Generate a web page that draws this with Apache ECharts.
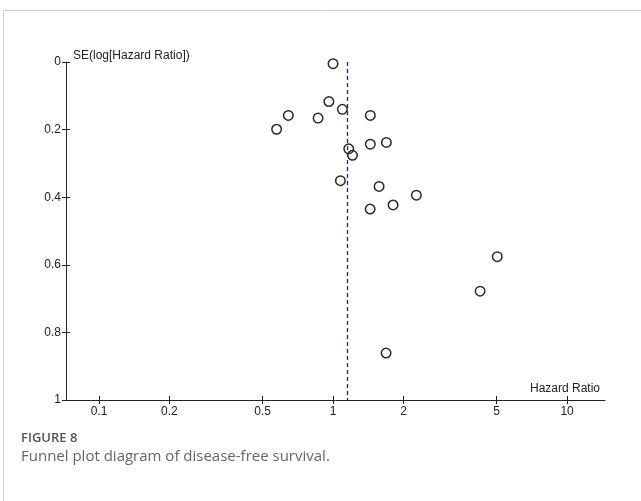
<!DOCTYPE html>
<html>
<head>
<meta charset="utf-8">
<script src="https://cdn.jsdelivr.net/npm/echarts@6/dist/echarts.min.js"></script>
<style>
  html, body { margin: 0; padding: 0; background: #fff; }
  #chart { width: 641px; height: 501px; }
</style>
</head>
<body>
<div id="chart"></div>
<script>
// Study estimates: hazard ratio and standard error of log(HR)
const hazardRatio = [1.00, 0.96, 0.644, 0.574, 0.863, 1.096, 1.443, 1.167, 1.211, 1.443,
                     1.690, 1.075, 1.573, 2.27, 1.440, 1.805, 5.03, 4.25, 1.685];
const seLogHR     = [0.005, 0.117, 0.158, 0.199, 0.166, 0.140, 0.158, 0.257, 0.276, 0.243,
                     0.238, 0.351, 0.368, 0.394, 0.435, 0.423, 0.576, 0.678, 0.861];
// Pooled estimate (vertical reference line)
const pooledHR = 1.148;
// Axis tick labels
const xTickLabels = [0.1, 0.2, 0.5, 1, 2, 5, 10];
const yTickLabels = [0, 0.2, 0.4, 0.6, 0.8, 1];

const log10 = Math.log10;
const xTickPos = xTickLabels.map(log10);
const points = hazardRatio.map((hr, i) => [log10(hr), seLogHR[i]]);

const font = 'Liberation Sans, Arial, sans-serif';
const axisColor = '#222';
const labelColor = '#222';

const xBase = {
  type: 'value', gridIndex: 0, position: 'bottom',
  min: -1.141, max: 1.162,
  splitLine: { show: false }
};
const yBase = {
  type: 'value', gridIndex: 0, position: 'left', inverse: true,
  min: 0, max: 1, interval: 0.2,
  splitLine: { show: false }
};

const chart = echarts.init(document.getElementById('chart'), null, { renderer: 'canvas' });
chart.setOption({
  animation: false,
  backgroundColor: '#fff',
  grid: { left: 66, top: 62, right: 36, bottom: 101, containLabel: false },
  xAxis: [
    Object.assign({}, xBase, {
      axisLine: { show: true, onZero: false, lineStyle: { color: axisColor, width: 1 } },
      axisTick: { show: true, inside: false, length: 4, customValues: xTickPos,
                  lineStyle: { color: axisColor } },
      axisLabel: { show: true, customValues: xTickPos, margin: 6,
                   color: labelColor, fontSize: 12, fontFamily: font,
                   formatter: v => String(Number(Math.pow(10, v).toPrecision(3))) }
    }),
    Object.assign({}, xBase, {
      axisLine: { show: false, onZero: false },
      axisTick: { show: true, inside: true, length: 4, customValues: xTickPos,
                  lineStyle: { color: axisColor } },
      axisLabel: { show: false }
    })
  ],
  yAxis: [
    Object.assign({}, yBase, {
      axisLine: { show: true, onZero: false, lineStyle: { color: axisColor, width: 1 } },
      axisTick: { show: true, inside: false, length: 4, lineStyle: { color: axisColor } },
      axisLabel: { show: true, margin: 5, color: labelColor, fontSize: 12, fontFamily: font,
                   formatter: v => String(yTickLabels.find(t => Math.abs(t - v) < 1e-6) ?? v) }
    }),
    Object.assign({}, yBase, {
      axisLine: { show: false, onZero: false },
      axisTick: { show: true, inside: true, length: 4, lineStyle: { color: axisColor } },
      axisLabel: { show: false }
    })
  ],
  series: [
    {
      type: 'scatter',
      xAxisIndex: 0, yAxisIndex: 0,
      data: points,
      symbol: 'circle',
      symbolSize: 9.5,
      itemStyle: { color: 'rgba(255,255,255,0)', borderColor: '#2a2a2a', borderWidth: 1.5, opacity: 1 },
      z: 3,
      markLine: {
        silent: true,
        symbol: 'none',
        label: { show: false },
        emphasis: { disabled: true },
        lineStyle: { color: '#1e1ea8', type: [4, 3], width: 1.3, opacity: 1 },
        data: [[{ coord: [log10(pooledHR), 0] }, { coord: [log10(pooledHR), 1] }]]
      }
    }
  ],
  graphic: [
    // figure frame
    { type: 'line', shape: { x1: 3.5, y1: 10.5, x2: 641, y2: 10.5 }, style: { stroke: '#cfcfcf', lineWidth: 1 } },
    { type: 'line', shape: { x1: 3.5, y1: 10.5, x2: 3.5, y2: 501 }, style: { stroke: '#cfcfcf', lineWidth: 1 } },
    // axis titles
    { type: 'text', left: 73, top: 50,
      style: { text: 'SE(log[Hazard Ratio])', fill: labelColor, font: '12px ' + font } },
    { type: 'text', left: 530, top: 383,
      style: { text: 'Hazard Ratio', fill: labelColor, font: '12px ' + font } },
    // caption
    { type: 'text', left: 21, top: 432,
      style: { text: 'FIGURE 8', fill: '#555', font: '600 13px "Open Sans", sans-serif' } },
    { type: 'text', left: 21, top: 449,
      style: { text: 'Funnel plot diagram of disease-free survival.', fill: '#666', font: '15px "Open Sans", sans-serif' } }
  ]
});
</script>
</body>
</html>
